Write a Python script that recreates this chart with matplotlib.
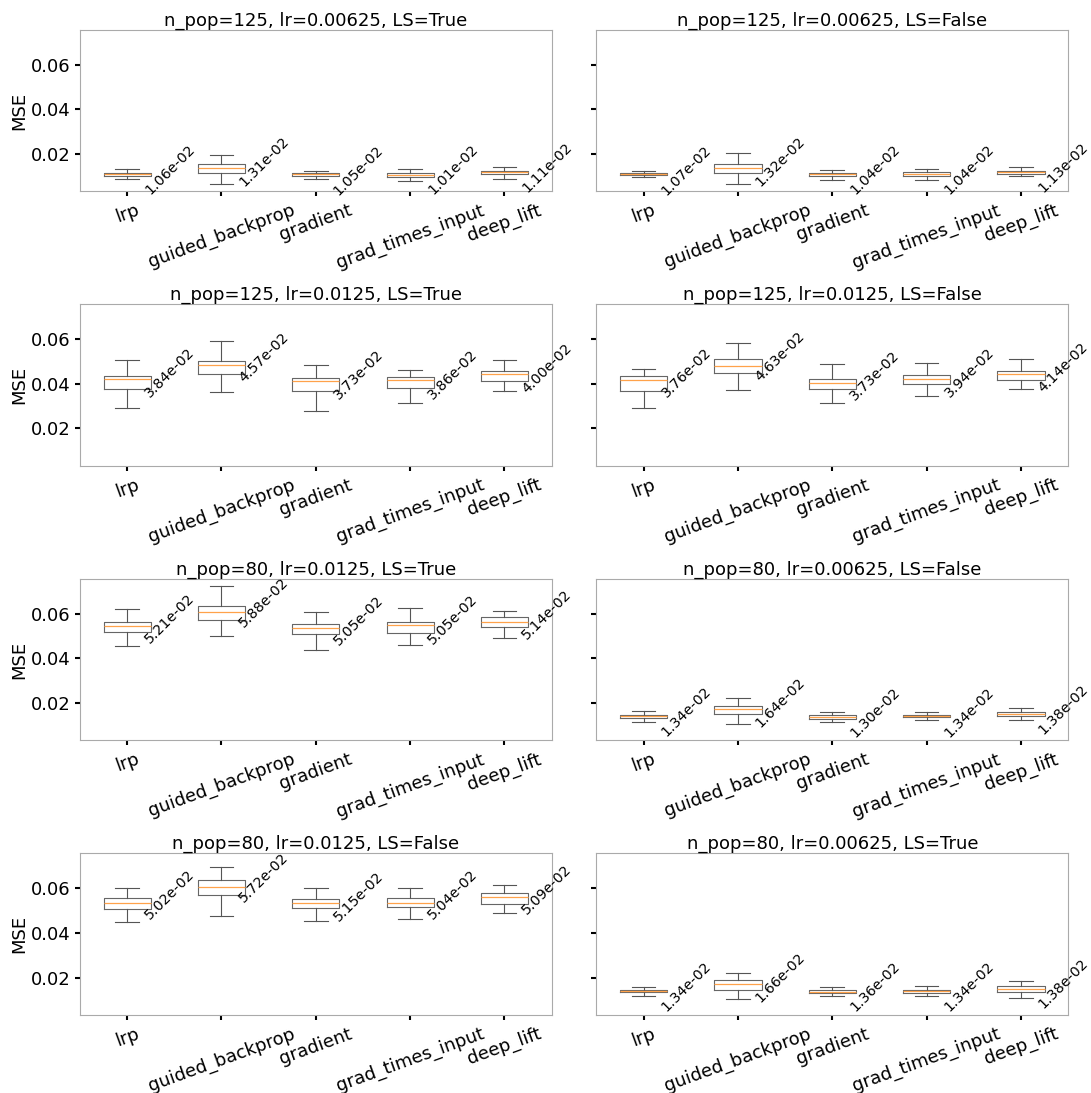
import numpy as np
import matplotlib
matplotlib.use("Agg")
import matplotlib.pyplot as plt

# ---data--------------------------------------------------------------
methods = ["lrp", "guided_backprop", "gradient", "grad_times_input", "deep_lift"]

titles = [
    "n_pop=125, lr=0.00625, LS=True",
    "n_pop=125, lr=0.00625, LS=False",
    "n_pop=125, lr=0.0125, LS=True",
    "n_pop=125, lr=0.0125, LS=False",
    "n_pop=80, lr=0.0125, LS=True",
    "n_pop=80, lr=0.00625, LS=False",
    "n_pop=80, lr=0.0125, LS=False",
    "n_pop=80, lr=0.00625, LS=True",
]

whis_lo = [
    [0.0088, 0.0065, 0.0089, 0.0079, 0.0086],
    [0.0095, 0.0065, 0.0085, 0.0082, 0.0101],
    [0.0293, 0.0365, 0.0278, 0.0313, 0.0366],
    [0.0293, 0.0372, 0.0314, 0.0344, 0.0375],
    [0.0455, 0.0501, 0.0437, 0.0459, 0.0491],
    [0.0116, 0.0106, 0.0113, 0.0124, 0.0124],
    [0.0450, 0.0477, 0.0455, 0.0461, 0.0491],
    [0.0115, 0.0103, 0.0119, 0.0115, 0.0109],
]
q1 = [
    [0.0100, 0.0116, 0.0101, 0.0098, 0.0109],
    [0.0104, 0.0113, 0.0101, 0.0100, 0.0112],
    [0.0375, 0.0446, 0.0366, 0.0383, 0.0414],
    [0.0366, 0.0449, 0.0375, 0.0398, 0.0419],
    [0.0518, 0.0572, 0.0509, 0.0513, 0.0540],
    [0.0131, 0.0152, 0.0127, 0.0136, 0.0142],
    [0.0509, 0.0572, 0.0510, 0.0515, 0.0531],
    [0.0133, 0.0146, 0.0131, 0.0131, 0.0136],
]
medians = [
    [0.0110, 0.0137, 0.0109, 0.0107, 0.0118],
    [0.0110, 0.0137, 0.0110, 0.0110, 0.0118],
    [0.0420, 0.0483, 0.0411, 0.0417, 0.0443],
    [0.0416, 0.0479, 0.0403, 0.0420, 0.0443],
    [0.0543, 0.0609, 0.0536, 0.0548, 0.0563],
    [0.0140, 0.0173, 0.0137, 0.0142, 0.0152],
    [0.0536, 0.0604, 0.0536, 0.0536, 0.0563],
    [0.0140, 0.0172, 0.0137, 0.0139, 0.0148],
]
q3 = [
    [0.0116, 0.0155, 0.0115, 0.0116, 0.0125],
    [0.0115, 0.0154, 0.0116, 0.0118, 0.0125],
    [0.0437, 0.0504, 0.0428, 0.0429, 0.0456],
    [0.0437, 0.0510, 0.0423, 0.0438, 0.0459],
    [0.0564, 0.0636, 0.0555, 0.0563, 0.0584],
    [0.0148, 0.0188, 0.0145, 0.0146, 0.0160],
    [0.0557, 0.0636, 0.0551, 0.0557, 0.0580],
    [0.0145, 0.0187, 0.0145, 0.0145, 0.0160],
]
whis_hi = [
    [0.0131, 0.0194, 0.0122, 0.0131, 0.0143],
    [0.0122, 0.0203, 0.0127, 0.0133, 0.0140],
    [0.0509, 0.0590, 0.0483, 0.0462, 0.0509],
    [0.0468, 0.0582, 0.0488, 0.0495, 0.0513],
    [0.0621, 0.0723, 0.0607, 0.0627, 0.0611],
    [0.0164, 0.0224, 0.0161, 0.0161, 0.0178],
    [0.0599, 0.0697, 0.0603, 0.0603, 0.0613],
    [0.0157, 0.0221, 0.0158, 0.0164, 0.0185],
]
labels = [
    ["1.06e-02", "1.31e-02", "1.05e-02", "1.01e-02", "1.11e-02"],
    ["1.07e-02", "1.32e-02", "1.04e-02", "1.04e-02", "1.13e-02"],
    ["3.84e-02", "4.57e-02", "3.73e-02", "3.86e-02", "4.00e-02"],
    ["3.76e-02", "4.63e-02", "3.73e-02", "3.94e-02", "4.14e-02"],
    ["5.21e-02", "5.88e-02", "5.05e-02", "5.05e-02", "5.14e-02"],
    ["1.34e-02", "1.64e-02", "1.30e-02", "1.34e-02", "1.38e-02"],
    ["5.02e-02", "5.72e-02", "5.15e-02", "5.04e-02", "5.09e-02"],
    ["1.34e-02", "1.66e-02", "1.36e-02", "1.34e-02", "1.38e-02"],
]

# ---plot--------------------------------------------------------------
fig, axes = plt.subplots(4, 2, figsize=(10.91, 10.93), dpi=100, sharey=True)
fig.subplots_adjust(left=0.0733, right=0.979, top=0.9726, bottom=0.0714,
                    wspace=0.095, hspace=0.70)

for k, ax in enumerate(axes.flat):
    stats = []
    for i, m in enumerate(methods):
        stats.append({"label": m, "whislo": whis_lo[k][i], "q1": q1[k][i],
                      "med": medians[k][i], "q3": q3[k][i],
                      "whishi": whis_hi[k][i], "fliers": []})
    ax.bxp(stats, showfliers=False,
           boxprops=dict(color="#666666", linewidth=0.8),
           whiskerprops=dict(color="#555555", linewidth=0.8),
           capprops=dict(color="#555555", linewidth=0.8),
           medianprops=dict(color="#ffa24a", linewidth=0.9))
    # value next to every box
    for i in range(len(methods)):
        ax.annotate(labels[k][i], (i + 1 + 0.16, q3[k][i]),
                    xytext=(0, 2), textcoords="offset points",
                    rotation=45, ha="left", va="center", fontsize=10.3)
    ax.set_title(titles[k], fontsize=13, pad=3)
    ax.set_yticks([0.02, 0.04, 0.06])
    ax.tick_params(axis="both", labelsize=13, width=1.5, length=3.5)
    ax.tick_params(axis="x", labelrotation=20)
    for sp in ax.spines.values():
        sp.set_color("#aaaaaa")
        sp.set_linewidth(0.8)
    if k % 2 == 0:
        ax.set_ylabel("MSE", fontsize=13, labelpad=1.5)
    else:
        ax.tick_params(axis="y", labelleft=False)

plt.savefig("out.png")
